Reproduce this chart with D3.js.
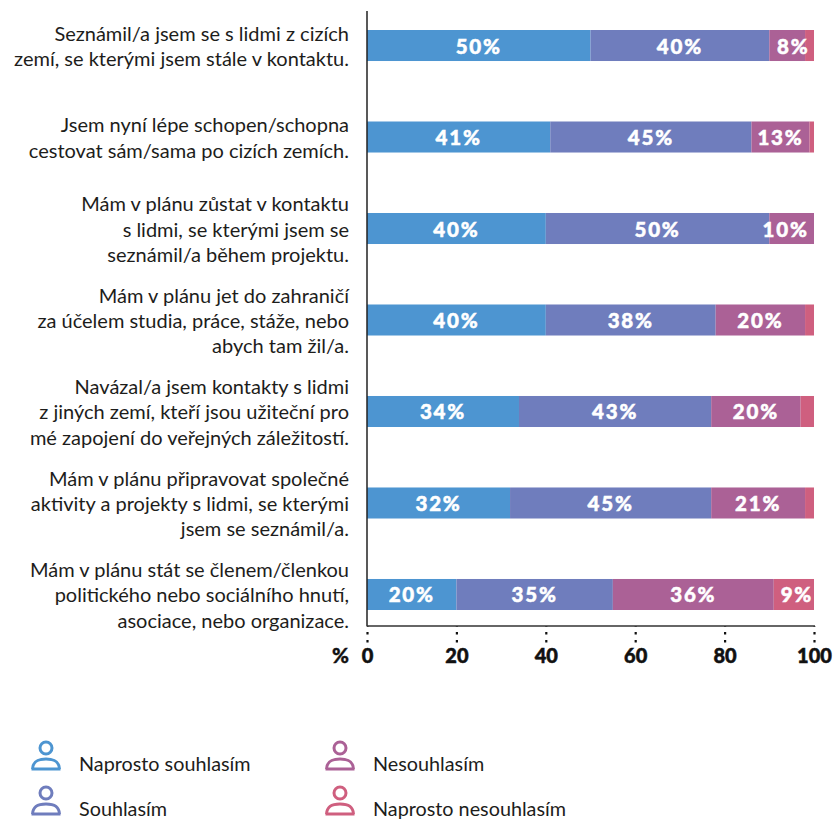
<!DOCTYPE html>
<html><head><meta charset="utf-8">
<script src="https://cdnjs.cloudflare.com/ajax/libs/d3/7.8.5/d3.min.js"></script>
<style>html,body{margin:0;padding:0;background:#fff}svg{display:block}text{font-family:Lato,sans-serif}</style>
</head><body><svg id="c" width="834" height="820"></svg>
<script>
const statements = [
 ["Seznámil/a jsem se s lidmi z cizích","zemí, se kterými jsem stále v kontaktu."],
 ["Jsem nyní lépe schopen/schopna","cestovat sám/sama po cizích zemích."],
 ["Mám v plánu zůstat v kontaktu","s lidmi, se kterými jsem se","seznámil/a během projektu."],
 ["Mám v plánu jet do zahraničí","za účelem studia, práce, stáže, nebo","abych tam žil/a."],
 ["Navázal/a jsem kontakty s lidmi","z jiných zemí, kteří jsou užiteční pro","mé zapojení do veřejných záležitostí."],
 ["Mám v plánu připravovat společné","aktivity a projekty s lidmi, se kterými","jsem se seznámil/a."],
 ["Mám v plánu stát se členem/členkou","politického nebo sociálního hnutí,","asociace, nebo organizace."]
];
const seriesNames = ["Naprosto souhlasím","Souhlasím","Nesouhlasím","Naprosto nesouhlasím"];
const stronglyAgree = [50,41,40,40,34,32,20];
const agree = [40,45,50,38,43,45,35];
const disagree = [8,13,10,20,20,21,36];
const stronglyDisagree = [2,1,0,2,3,2,9];
const colors = ["#4d95d1","#6f7dbd","#ab6196","#cf5f7f"];
const ticks = [0,20,40,60,80,100];
// labels of the narrow right-hand segments are nudged in the original
const narrowLabelShift = {"0-2":6,"2-2":-6,"6-3":3};

const svg = d3.select("#c");
const x = d3.scaleLinear().domain([0,100]).range([367,814]);
const y = d3.scaleBand().domain(d3.range(7)).range([30,610]).paddingInner(0.661).paddingOuter(0);
const allSeries = [stronglyAgree,agree,disagree,stronglyDisagree];

statements.forEach((lines,i)=>{
  let cum=0;
  const labels=[];
  allSeries.forEach((s,j)=>{
    const v=s[i];
    if(v>0) svg.append("rect").attr("x",x(cum)).attr("y",y(i)).attr("width",x(cum+v)-x(cum)).attr("height",y.bandwidth()).attr("fill",colors[j]);
    if(v>=8) labels.push([x(cum+v/2)+(narrowLabelShift[i+"-"+j]||0),v]);
    cum+=v;
  });
  labels.forEach(([lx,v])=>{
    svg.append("text").attr("x",lx).attr("y",y(i)+y.bandwidth()/2+8)
      .attr("text-anchor","middle").attr("fill","#fff").attr("stroke","#fff").attr("stroke-width",0.5)
      .attr("font-size",20.5).attr("font-weight",900).attr("letter-spacing",1.8).text(v+"%");
  });
  const cy=y(i)+y.bandwidth()/2, lh=25.3;
  lines.forEach((l,k)=>{
    svg.append("text").attr("x",349).attr("y",cy+8+(k-(lines.length-1)/2)*lh)
      .attr("text-anchor","end").attr("fill","#1d1d1b").attr("font-size",20).text(l);
  });
});

svg.append("line").attr("x1",367).attr("x2",367).attr("y1",11).attr("y2",626).attr("stroke","#222").attr("stroke-width",1.5);
svg.append("line").attr("x1",367).attr("x2",815).attr("y1",626).attr("y2",626).attr("stroke","#333").attr("stroke-width",1.5);

const axisG = svg.append("g").attr("transform","translate(0,626)")
  .call(d3.axisBottom(x).tickValues(ticks).tickSize(17).tickFormat(d=>d));
axisG.select(".domain").remove();
axisG.selectAll("line").attr("stroke","#111").attr("stroke-width",2.2).attr("stroke-dasharray","2.5 5.5").attr("stroke-dashoffset",-6).attr("y1",0);
axisG.selectAll("text").attr("y",0).attr("dy",37).attr("fill","#111").attr("stroke","#111").attr("stroke-width",0.5).attr("font-size",20).attr("font-weight",900).style("font-family","Lato,sans-serif");
svg.append("text").attr("x",349).attr("y",663).attr("text-anchor","end").attr("fill","#111").attr("stroke","#111").attr("stroke-width",0.4).attr("font-size",20.5).attr("font-weight",900).text("%");

const legendX=[46,340], legendY=[763,808];
const legendOrder=[[0,0],[0,1],[1,0],[1,1]];
legendOrder.forEach(([c,r],i)=>{
  const g=svg.append("g").attr("transform",`translate(${legendX[c]},${legendY[r]})`);
  g.append("circle").attr("cx",0).attr("cy",-15).attr("r",6).attr("fill","none").attr("stroke",colors[i]).attr("stroke-width",3);
  g.append("path").attr("d","M-14.5,6 L14.5,6 M-13.5,6 C-13,-2 -8,-4 0,-4 C8,-4 13,-2 13.5,6").attr("fill","none").attr("stroke",colors[i]).attr("stroke-width",3);
  g.append("text").attr("x",33).attr("y",8).attr("fill","#1d1d1b").attr("font-size",19.8).text(seriesNames[i]);
});
</script></body></html>
